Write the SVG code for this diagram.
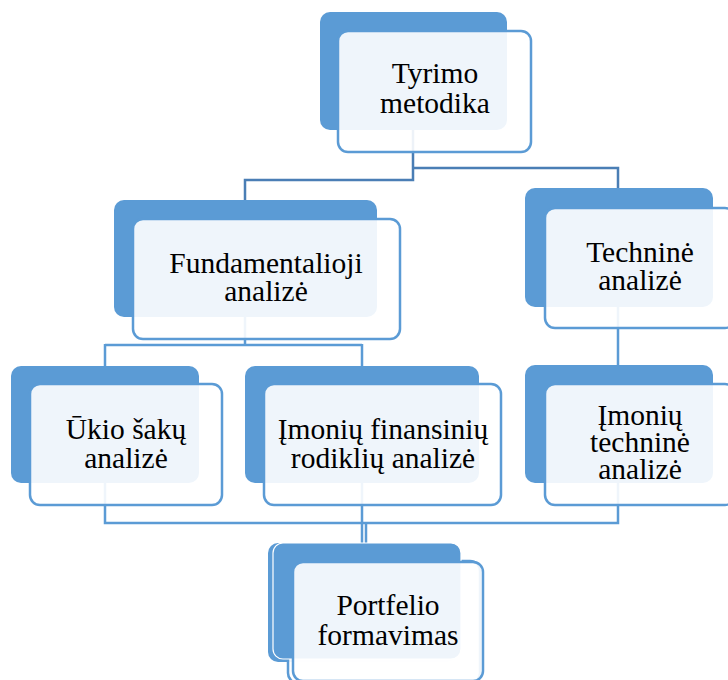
<svg xmlns="http://www.w3.org/2000/svg" width="728" height="680" viewBox="0 0 728 680">
<style>
.back{fill:#5B9BD5;}
.front{fill:#FFFFFF;fill-opacity:0.9;stroke:#5B9BD5;stroke-width:2.5;}
.t{font-size:29.5px;fill:#000000;text-anchor:middle;}
.c1{fill:none;stroke:#4A7EB5;stroke-width:2.5;}
.c2{fill:none;stroke:#5B9BD5;stroke-width:2.5;}
</style>
<rect width="728" height="680" fill="#FFFFFF"/>
<g id="connectors">
<path class="c1" d="M413,130 V180 H245 V200"/>
<path class="c1" d="M413,168 H618 V188"/>
<path class="c2" d="M245,317 V345 M105,345 H362 M105,344 V366 M362,344 V366"/>
<path class="c2" d="M618,307 V365"/>
<path class="c2" d="M105,483 V523 H618 V483"/>
<path class="c2" d="M362,483 V543"/>
<path class="c2" d="M366,523 V545"/>
</g>
<g font-family="'Liberation Serif', 'Times New Roman', 'DejaVu Serif', serif">
<g id="node-tyrimo">
<rect class="back" x="320" y="12" width="187" height="118" rx="10"/>
<rect class="front" x="338" y="31" width="193" height="121" rx="10"/>
<text class="t" x="435" y="83">Tyrimo</text>
<text class="t" x="435" y="113">metodika</text>
</g>
<g id="node-fundamentalioji">
<rect class="back" x="114" y="200" width="263" height="117" rx="10"/>
<rect class="front" x="133" y="219" width="267" height="120" rx="10"/>
<text class="t" x="266" y="273">Fundamentalioji</text>
<text class="t" x="266" y="301">analizė</text>
</g>
<g id="node-technine">
<rect class="back" x="525" y="188" width="188" height="119" rx="10"/>
<rect class="front" x="545" y="208" width="190" height="120" rx="10"/>
<text class="t" x="640" y="262">Techninė</text>
<text class="t" x="640" y="290">analizė</text>
</g>
<g id="node-ukio">
<rect class="back" x="11" y="366" width="188" height="117" rx="10"/>
<rect class="front" x="30" y="384" width="192" height="121" rx="10"/>
<text class="t" x="126" y="439">Ūkio šakų</text>
<text class="t" x="126" y="468">analizė</text>
</g>
<g id="node-finansiniu">
<rect class="back" x="245" y="366" width="234" height="117" rx="10"/>
<rect class="front" x="264" y="384" width="237" height="121" rx="10"/>
<text class="t" x="383" y="439">Įmonių finansinių</text>
<text class="t" x="383" y="468">rodiklių analizė</text>
</g>
<g id="node-imoniu-technine">
<rect class="back" x="525" y="365" width="188" height="118" rx="10"/>
<rect class="front" x="545" y="384" width="190" height="121" rx="10"/>
<text class="t" x="640" y="425">Įmonių</text>
<text class="t" x="640" y="452">techninė</text>
<text class="t" x="640" y="479">analizė</text>
</g>
<g id="node-portfelio-a">
<rect class="back" x="268" y="543" width="189" height="119" rx="10"/>
<rect class="front" x="288" y="561" width="192" height="122" rx="10"/>
</g>
<g id="node-portfelio">
<rect class="back" x="273" y="543" width="188" height="116" rx="10" stroke="#FFFFFF" stroke-width="1.2"/>
<rect class="front" x="293" y="562" width="190" height="119" rx="10"/>
<text class="t" x="388" y="615">Portfelio</text>
<text class="t" x="388" y="645">formavimas</text>
</g>
</g>
</svg>
